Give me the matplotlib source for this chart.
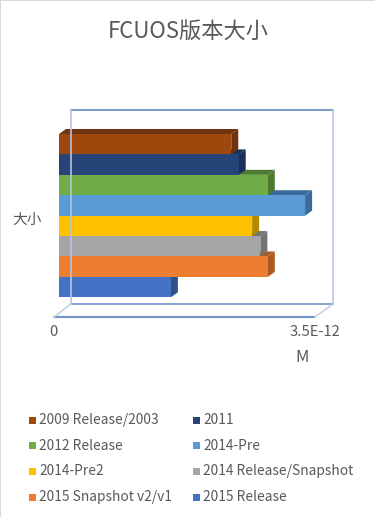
import matplotlib
matplotlib.use("Agg")
import matplotlib.pyplot as plt
from matplotlib.lines import Line2D
from matplotlib.patches import Polygon, Rectangle
from matplotlib.transforms import ScaledTranslation

plt.rcParams['font.family'] = ['Noto Sans CJK SC', 'DejaVu Sans']

# 从上到下的顺序
series = ["2009 Release/2003", "2011", "2012 Release", "2014-Pre",
          "2014-Pre2", "2014 Release/Snapshot", "2015 Snapshot v2/v1", "2015 Release"]
sizes = [2.31e-12, 2.41e-12, 2.80e-12, 3.30e-12, 2.59e-12, 2.70e-12, 2.80e-12, 1.50e-12]
front_colors = ["#9e480e", "#264478", "#70ad47", "#5b9bd5", "#ffc000", "#a5a5a5", "#ed7d31", "#4472c4"]
dark_colors = ["#6f3410", "#1a3058", "#4d7a31", "#3a6b99", "#b58a00", "#747474", "#a95a22", "#2f5088"]
x_ticks = [0, 3.5e-12]
x_labels = ["0", "3.5E-12"]

W, H = 375, 517
TEXT = "#595959"
DX, DY = 7, 5  # 立体的深度(像素)


def fx(x):
    return x / W


def fy(y):
    return 1 - y / H


def frame_line(x0, y0, x1, y1, color, lw=1.2):
    fig.add_artist(Line2D([fx(x0), fx(x1)], [fy(y0), fy(y1)], color=color, lw=lw))


fig = plt.figure(figsize=(W / 100, H / 100), dpi=100, facecolor="white")

# 左边和上边的灰色边框
fig.add_artist(Rectangle((0, 0), fx(1), 1, color="#d9d9d9", lw=0))
fig.add_artist(Rectangle((0, fy(1)), 1, 1 / H, color="#d9d9d9", lw=0))

# 背面和底面的框
frame_line(71, 110, 333, 110, "#6288bf")
frame_line(71, 110, 71, 304, "#b4c4de")
frame_line(333, 110, 333, 304, "#b9c8e0")
frame_line(71, 304, 333, 304, "#7094c8")
frame_line(54, 317, 315, 317, "#7094c8", 1.5)
frame_line(54, 317, 71, 304, "#c5d1e5")
frame_line(315, 317, 333, 304, "#c5d1e5")

# 0 -> 59px, 3.5E-12 -> 320px
ax = fig.add_axes([fx(59), fy(297.3), fx(261), (297.3 - 134) / H])
ax.set_xlim(0, 3.5e-12)
ax.set_ylim(-0.5, len(series) - 0.5)
ax.patch.set_visible(False)
for s in ax.spines.values():
    s.set_visible(False)

# 每像素对应的数据单位
ux = 3.5e-12 / 261
uy = len(series) / (297.3 - 134)
dx, dy = DX * ux, DY * uy

# 从下往上画,上面的柱子盖住下面柱子的顶面
for i in range(len(series) - 1, -1, -1):
    y = len(series) - 1 - i
    v = sizes[i]
    top, bot = y + 0.5, y - 0.5
    z = 3 + y * 0.1
    ax.add_patch(Polygon([(0, top), (dx, top + dy), (v + dx, top + dy), (v, top)],
                         fc=dark_colors[i], lw=0, clip_on=False, zorder=z))
    ax.add_patch(Polygon([(v, top), (v + dx, top + dy), (v + dx, bot + dy), (v, bot)],
                         fc=dark_colors[i], lw=0, clip_on=False, zorder=z))
    ax.barh(y, v, height=1.0, color=front_colors[i], lw=0, zorder=z + 0.01)

ax.set_xticks(x_ticks)
ax.set_xticklabels(x_labels, fontsize=10.6, color=TEXT)
ax.tick_params(axis="x", length=0, pad=20)
ax.set_yticks([])
for lab in ax.get_xticklabels():
    lab.set_transform(lab.get_transform() + ScaledTranslation(-5.5 / 100, 0, fig.dpi_scale_trans))

fig.text(fx(27.5), fy(220), "大小", fontsize=10.6, color=TEXT, ha="center", va="center")
fig.text(fx(302), fy(357), "M", fontsize=12, color=TEXT, ha="center", va="center")
fig.text(fx(188), fy(31), "FCUOS版本大小", fontsize=16, color=TEXT, ha="center", va="center")

# 图例
col_x = [29, 193]
row_y = [420, 445.5, 471, 497]
for i, name in enumerate(series):
    lx = col_x[i % 2]
    ly = row_y[i // 2]
    fig.add_artist(Rectangle((fx(lx), fy(ly + 3.5)), fx(7), 7 / H, color=front_colors[i], lw=0))
    fig.text(fx(lx + 10), fy(ly), name, fontsize=9.9, color=TEXT, ha="left", va="center")

fig.savefig("out.png", dpi=100)
